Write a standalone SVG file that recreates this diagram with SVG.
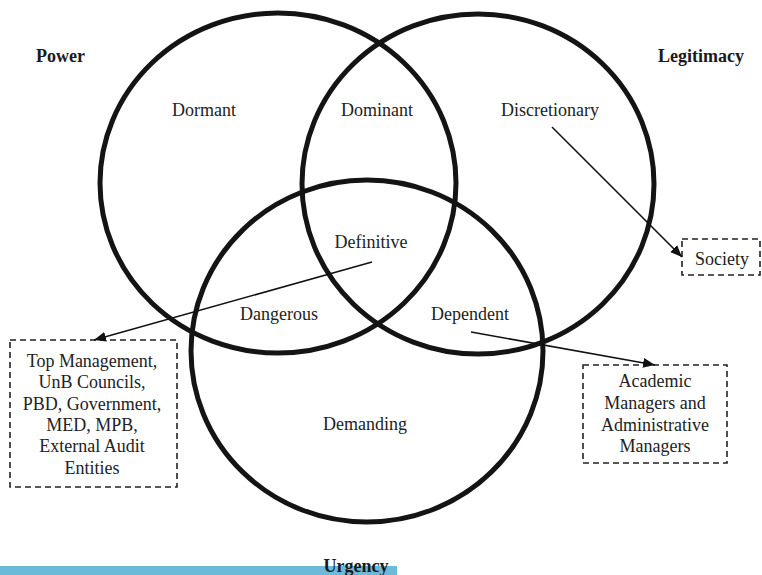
<svg xmlns="http://www.w3.org/2000/svg" width="762" height="575" viewBox="0 0 762 575">
  <style>
    .ring { fill: none; stroke: #141414; stroke-width: 5; }
    .lbl { font-family: "Liberation Serif", "Times New Roman", serif; font-size: 18px; fill: #222; text-anchor: middle; }
    .title { font-family: "Liberation Serif", "Times New Roman", serif; font-size: 18px; font-weight: bold; fill: #1a1a1a; }
    .box { fill: #fff; stroke: #222; stroke-width: 1.6; stroke-dasharray: 6 4; }
    .link { stroke: #111; stroke-width: 1.5; fill: none; marker-end: url(#head); }
  </style>
  <defs>
    <marker id="head" viewBox="0 0 12 10" refX="12" refY="5" markerWidth="12" markerHeight="10" markerUnits="userSpaceOnUse" orient="auto">
      <path d="M0,0 L12,5 L0,10 Z" fill="#111"/>
    </marker>
  </defs>
  <rect width="762" height="575" fill="#fff"/>

  <!-- bottom band -->
  <rect x="0" y="566" width="397" height="9" fill="#6cb9d9"/>

  <!-- attribute sets -->
  <g id="power">
    <ellipse class="ring" cx="278" cy="183" rx="178" ry="170"/>
    <text class="title" x="36" y="62">Power</text>
  </g>
  <g id="legitimacy">
    <ellipse class="ring" cx="478" cy="184" rx="176" ry="170"/>
    <text class="title" x="658" y="62">Legitimacy</text>
  </g>
  <g id="urgency">
    <ellipse class="ring" cx="367" cy="351" rx="176" ry="171"/>
    <text class="title" x="356" y="572" text-anchor="middle">Urgency</text>
  </g>

  <!-- region labels -->
  <g id="dormant"><text class="lbl" x="204" y="116">Dormant</text></g>
  <g id="dominant"><text class="lbl" x="377" y="116">Dominant</text></g>
  <g id="discretionary"><text class="lbl" x="550" y="116">Discretionary</text></g>
  <g id="definitive"><text class="lbl" x="371" y="248">Definitive</text></g>
  <g id="dangerous"><text class="lbl" x="279" y="320">Dangerous</text></g>
  <g id="dependent"><text class="lbl" x="470" y="320">Dependent</text></g>
  <g id="demanding"><text class="lbl" x="365" y="430">Demanding</text></g>

  <!-- stakeholder boxes -->
  <g id="society">
    <rect class="box" x="682" y="239" width="78" height="36"/>
    <text class="lbl" x="722" y="265">Society</text>
  </g>
  <g id="definitive-stakeholders">
    <rect class="box" x="10" y="340" width="167" height="147"/>
    <text class="lbl" x="92" y="367">Top Management,</text>
    <text class="lbl" x="92" y="388">UnB Councils,</text>
    <text class="lbl" x="92" y="410">PBD, Government,</text>
    <text class="lbl" x="92" y="431">MED, MPB,</text>
    <text class="lbl" x="92" y="452">External Audit</text>
    <text class="lbl" x="92" y="474">Entities</text>
  </g>
  <g id="dependent-stakeholders">
    <rect class="box" x="583" y="365" width="144" height="98"/>
    <text class="lbl" x="655" y="387">Academic</text>
    <text class="lbl" x="655" y="409">Managers and</text>
    <text class="lbl" x="655" y="431">Administrative</text>
    <text class="lbl" x="655" y="452">Managers</text>
  </g>

  <!-- connectors -->
  <g id="connectors">
    <line class="link" x1="552" y1="127" x2="682" y2="257"/>
    <line class="link" x1="372" y1="262" x2="94" y2="340"/>
    <line class="link" x1="471" y1="332" x2="655" y2="365"/>
  </g>
</svg>
